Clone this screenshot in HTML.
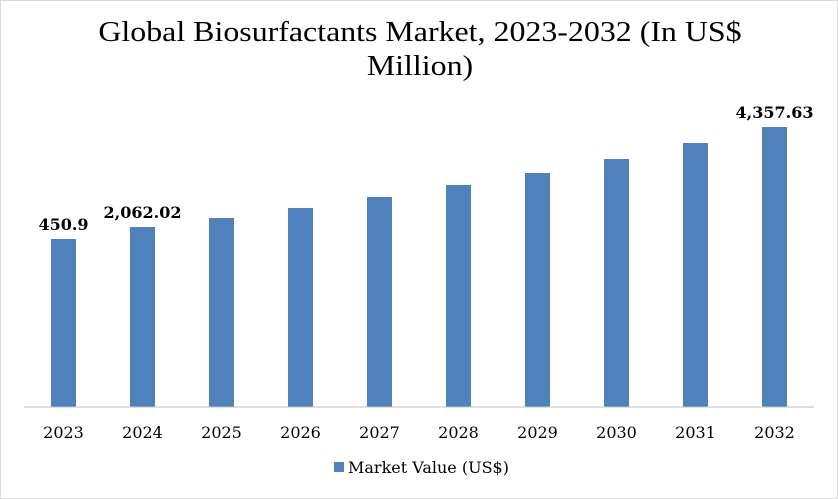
<!DOCTYPE html>
<html><head><meta charset="utf-8"><style>
body{margin:0;background:#fff}
#c{position:relative;width:838px;height:499px;box-sizing:border-box;border:1px solid #d9d9d9;font-family:"Liberation Serif",serif;overflow:hidden}
#t{position:absolute;left:0;top:14px;width:838px;text-align:center;font-size:29px;line-height:34px;color:#000;transform:scaleX(1.1);transform-origin:419px 0}
</style></head><body>
<div id="c">
<div id="t">Global Biosurfactants Market, 2023-2032 (In US$<br>Million)</div>
<svg id="s" width="838" height="499" style="position:absolute;left:0;top:0"></svg>
</div>
<script>
const categories=["2023","2024","2025","2026","2027","2028","2029","2030","2031","2032"];
const values=[450.9,869,1183,1532,1916,2334,2753,3241,3799,4357.63];
const valueLabels=["450.9","2,062.02","","","","","","","","4,357.63"];
const yMin=-5409,yMax=4357.63;
const NS="http://www.w3.org/2000/svg",s=document.getElementById("s");
const x0=23,x1=813,base=406,topPx=126;
const band=(x1-x0)/categories.length;
const xc=i=>x0+band*(i+0.5);
const y=v=>base-(v-yMin)/(yMax-yMin)*(base-topPx);
function mk(t,a){const e=document.createElementNS(NS,t);for(const k in a)e.setAttribute(k,a[k]);s.appendChild(e);return e;}
categories.forEach((c,i)=>{
 const b=mk("rect",{x:xc(i)-12.5,y:y(values[i]),width:25,height:base-y(values[i]),fill:"#4f81bd"});
 
 
 const l=mk("text",{x:xc(i),y:437,"text-anchor":"middle","font-size":"16","font-family":"DejaVu Serif, serif"});
 l.textContent=c;
 
 
 if(valueLabels[i]){
  const v=mk("text",{x:xc(i),y:y(values[i])-9,"text-anchor":"middle","font-size":"16","font-weight":"bold","font-family":"DejaVu Serif, serif"});
  v.textContent=valueLabels[i];
  
  
 }
});
const ax=mk("line",{x1:x0,x2:x1,y1:base,y2:base,stroke:"#bfbfbf","stroke-width":1});


const ls=mk("rect",{x:333,y:461,width:10,height:10,fill:"#4f81bd"});


const lt=mk("text",{x:347,y:472,"font-size":"16","font-family":"DejaVu Serif, serif"});
lt.textContent="Market Value (US$)";


</script>
</body></html>
